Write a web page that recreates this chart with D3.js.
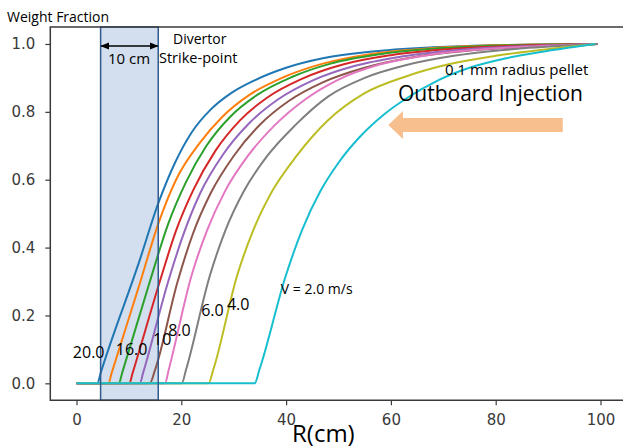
<!DOCTYPE html>
<html>
<head>
<meta charset="UTF-8" />
<title>Weight Fraction vs R</title>
<script src="https://d3js.org/d3.v7.min.js"></script>
<style>
  body { margin: 0; background: #fff; }
  .tick text { font-family: "DejaVu Sans", sans-serif; font-size: 15px; fill: #3a3a3a; }
  .tick line { stroke: #3a3a3a; stroke-width: 1.2px; }
  .note { font-family: "Open Sans", sans-serif; fill: #000; }
</style>
</head>
<body>
<svg width="623" height="446"></svg>
<script>
const width = 623, height = 446;

// velocities (m/s), one curve each
const speeds = [20, 18, 16, 14, 12, 10, 8, 6, 4, 2];
const colors = ["#1f77b4", "#ff7f0e", "#2ca02c", "#d62728", "#9467bd",
                "#8c564b", "#e377c2", "#7f7f7f", "#bcbd22", "#17becf"];

// [R (cm), weight fraction]
const v20 = [[0,0],[4,0],[4.6,0.03],[12,0.36],[15.6,0.53],[18.8,0.65],[22,0.74],[25.5,0.805],[29.5,0.855],[34,0.893],[40,0.93],[47,0.958],[56,0.977],[68,0.99],[82,0.997],[99.5,1]];
const v18 = [[0,0],[6.1,0],[6.7,0.03],[12,0.29],[15.6,0.47],[19,0.6],[23.6,0.71],[27.8,0.785],[33,0.85],[39.5,0.902],[47,0.942],[56,0.97],[68,0.988],[82,0.997],[99.5,1]];
const v16 = [[0,0],[8.1,0],[8.7,0.03],[14,0.3],[17.5,0.47],[20.8,0.59],[24.8,0.7],[29.3,0.785],[34.5,0.85],[41,0.902],[48.5,0.942],[58,0.97],[70,0.988],[84,0.997],[99.5,1]];
const v14 = [[0,0],[10.1,0],[10.7,0.03],[15.9,0.3],[19,0.45],[22.3,0.57],[26.5,0.685],[31.2,0.775],[36.5,0.843],[43,0.897],[51,0.94],[60,0.967],[72,0.986],[86,0.996],[99.5,1]];
const v12 = [[0,0],[12.1,0],[12.7,0.03],[17.5,0.3],[20.2,0.43],[23.6,0.56],[28,0.675],[33,0.767],[38.5,0.837],[45,0.892],[53,0.935],[62,0.963],[74,0.984],[88,0.995],[99.5,1]];
const v10 = [[0,0],[14,0],[15,0.04],[19.3,0.3],[22.2,0.44],[25.6,0.56],[30,0.67],[35,0.762],[40.5,0.832],[47,0.887],[55,0.93],[64,0.96],[76,0.982],[89,0.994],[99.5,1]];
const v8  = [[0,0],[16.9,0],[17.6,0.04],[22,0.32],[24.9,0.45],[28.3,0.565],[32.7,0.67],[37.8,0.76],[43.5,0.835],[50,0.895],[58,0.94],[67,0.967],[78,0.985],[90,0.995],[99.5,1]];
const v6  = [[0,0],[20.1,0],[20.9,0.04],[25.5,0.32],[28.4,0.45],[31.9,0.565],[36.4,0.67],[41.7,0.76],[48,0.845],[55,0.9],[63,0.938],[72,0.965],[82,0.983],[92,0.994],[99.5,1]];
const v4  = [[0,0],[25.2,0],[26.1,0.04],[30.7,0.32],[33.7,0.45],[37.3,0.565],[42,0.67],[48,0.775],[55,0.855],[63,0.905],[71,0.94],[80,0.965],[89,0.983],[99,1]];
const v2  = [[0,0],[34,0],[34.9,0.04],[40,0.32],[43,0.45],[46.5,0.565],[50,0.65],[54,0.725],[58.5,0.79],[63,0.84],[69,0.893],[75,0.93],[82,0.958],[90,0.98],[99,1]];
const series = [v20, v18, v16, v14, v12, v10, v8, v6, v4, v2];

// labels next to the curves: [text, R, fraction, font size]
const curveLabels = [
  ["20.0", -0.7, 0.075, 16], ["16.0", 7.5, 0.083, 16], ["10", 14.6, 0.113, 16],
  ["8.0", 17.5, 0.138, 16], ["6.0", 23.8, 0.197, 16], ["4.0", 28.7, 0.215, 16],
  ["V = 2.0 m/s", 39.0, 0.262, 14]
];

const xTicks = [0, 20, 40, 60, 80, 100];
const yTicks = [0, 0.2, 0.4, 0.6, 0.8, 1.0];

const x = d3.scaleLinear().domain([-5, 105]).range([50.3, 626.7]);
const y = d3.scaleLinear().domain([-0.05, 1.05]).range([400.3, 27]);

const svg = d3.select("svg");

// divertor strike-point band
svg.append("rect")
  .attr("x", x(4.6)).attr("y", y(1.05))
  .attr("width", x(15.6) - x(4.6)).attr("height", y(-0.05) - y(1.05))
  .attr("fill", "#d3deee");

const line = d3.line()
  .x(d => x(d[0])).y(d => y(d[1]))
  .curve(d3.curveMonotoneX);

svg.append("g").selectAll("path")
  .data(series)
  .enter().append("path")
  .attr("d", line)
  .attr("fill", "none")
  .attr("stroke", (d, i) => colors[i])
  .attr("stroke-width", 2);

// band outline on top
svg.append("rect")
  .attr("x", x(4.6)).attr("y", y(1.05))
  .attr("width", x(15.6) - x(4.6)).attr("height", y(-0.05) - y(1.05))
  .attr("fill", "none").attr("stroke", "#2f5b8f").attr("stroke-width", 1.5);

// axes
svg.append("g")
  .attr("transform", `translate(0,${y(-0.05)})`)
  .call(d3.axisBottom(x).tickValues(xTicks).tickSize(5).tickPadding(9))
  .call(g => g.select(".domain").remove());
svg.append("g")
  .attr("transform", `translate(${x(-5)},0)`)
  .call(d3.axisLeft(y).tickValues(yTicks).tickFormat(d3.format(".1f")).tickSize(5).tickPadding(10))
  .call(g => g.select(".domain").remove());

// frame
svg.append("path")
  .attr("d", `M${x(105)},${y(1.05)}H${x(-5)}V${y(-0.05)}H${x(105)}`)
  .attr("fill", "none").attr("stroke", "#3a3a3a").attr("stroke-width", 1.5);

// curve labels
svg.append("g").selectAll("text")
  .data(curveLabels)
  .enter().append("text")
  .attr("class", "note")
  .attr("x", d => x(d[1])).attr("y", d => y(d[2]))
  .attr("font-size", d => d[3])
  .text(d => d[0]);

// 10 cm double arrow
const defs = svg.append("defs");
defs.append("marker").attr("id", "ah")
  .attr("viewBox", "0 0 10 10").attr("refX", 9).attr("refY", 5)
  .attr("markerWidth", 6).attr("markerHeight", 6).attr("orient", "auto-start-reverse")
  .append("path").attr("d", "M0,1L10,5L0,9Z").attr("fill", "#000");
svg.append("line")
  .attr("x1", x(4.7)).attr("x2", x(15.5)).attr("y1", y(0.994)).attr("y2", y(0.994))
  .attr("stroke", "#000").attr("stroke-width", 1.5)
  .attr("marker-start", "url(#ah)").attr("marker-end", "url(#ah)");

const notes = [
  ["Weight Fraction", 7, 22, 14],
  ["10 cm", 108, 64, 15],
  ["Divertor", 173, 44, 14],
  ["Strike-point", 159, 63, 14.5],
  ["0.1 mm radius pellet", 445, 74.5, 15],
  ["Outboard Injection", 398, 101, 21],
  ["R(cm)", 292, 442, 24]
];
svg.append("g").selectAll("text")
  .data(notes)
  .enter().append("text")
  .attr("class", "note")
  .attr("x", d => d[1]).attr("y", d => d[2])
  .attr("font-size", d => d[3])
  .text(d => d[0]);

// injection direction arrow
const ay = y(0.761);
svg.append("path")
  .attr("d", `M${x(59.5)},${ay}L${x(62.3)},${ay - 14}V${ay - 7}H${x(92.8)}V${ay + 7}H${x(62.3)}V${ay + 14}Z`)
  .attr("fill", "#f8bf8e");
</script>
</body>
</html>
